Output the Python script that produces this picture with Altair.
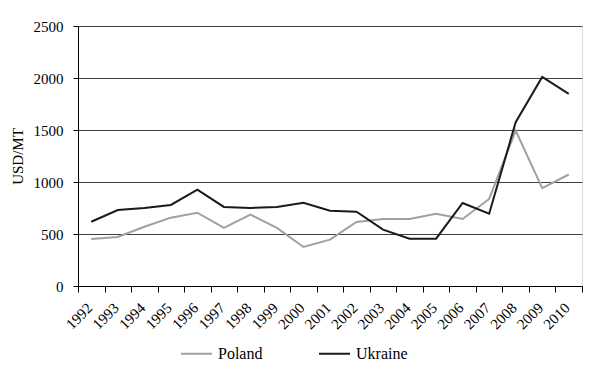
import altair as alt
import pandas as pd

years = [str(y) for y in range(1992, 2011)]
poland = [452, 471, 570, 657, 705, 558, 686, 558, 375, 446, 615, 644, 644, 695, 644, 837, 1494, 940, 1072]
ukraine = [618, 731, 750, 779, 926, 760, 750, 760, 801, 724, 715, 542, 455, 455, 798, 695, 1575, 2010, 1848]

rows = []
for i, y in enumerate(years):
    rows.append({"year": y, "country": "Poland", "value": poland[i]})
    rows.append({"year": y, "country": "Ukraine", "value": ukraine[i]})
df = pd.DataFrame(rows)

font = "Times New Roman, Liberation Serif, serif"

chart = alt.Chart(df).mark_line(strokeWidth=2).encode(
    x=alt.X("year:N", sort=years, title=None,
            scale=alt.Scale(paddingInner=0, paddingOuter=0),
            axis=alt.Axis(labelAngle=-45, tickBand="extent", labelAlign="right",
                          labelBaseline="middle", labelOffset=-2,
                          domainColor="#000000", tickColor="#000000", tickSize=6,
                          labelFont=font, labelFontSize=15, labelColor="#000000",
                          grid=False, labelPadding=13)),
    y=alt.Y("value:Q", title="USD/MT",
            scale=alt.Scale(domain=[0, 2500]),
            axis=alt.Axis(values=[0, 500, 1000, 1500, 2000, 2500], tickSize=5, format="d",
                          domainColor="#000000", tickColor="#000000",
                          gridColor="#404040", gridWidth=1, gridOpacity=1,
                          labelFont=font, labelFontSize=15, labelColor="#000000",
                          titleFont=font, titleFontSize=15, titleFontWeight="normal",
                          titleColor="#000000", titlePadding=8, labelPadding=10)),
    color=alt.Color("country:N", title=None,
                    scale=alt.Scale(domain=["Poland", "Ukraine"], range=["#a0a0a0", "#1a1a1a"]),
                    legend=alt.Legend(orient="none", direction="horizontal", legendX=102, legendY=311,
                                      symbolType="stroke", symbolSize=961, symbolStrokeWidth=2,
                                      labelFont=font, labelFontSize=16, labelColor="#000000",
                                      columnPadding=52, labelOffset=5)),
).properties(
    width=504, height=260,
    autosize=alt.AutoSizeParams(type="none"),
    padding={"left": 70, "top": 18, "right": 20, "bottom": 75},
).configure_view(stroke=None).configure(background="white")

chart.save("out.html", embed_options={"renderer": "svg", "actions": False})
